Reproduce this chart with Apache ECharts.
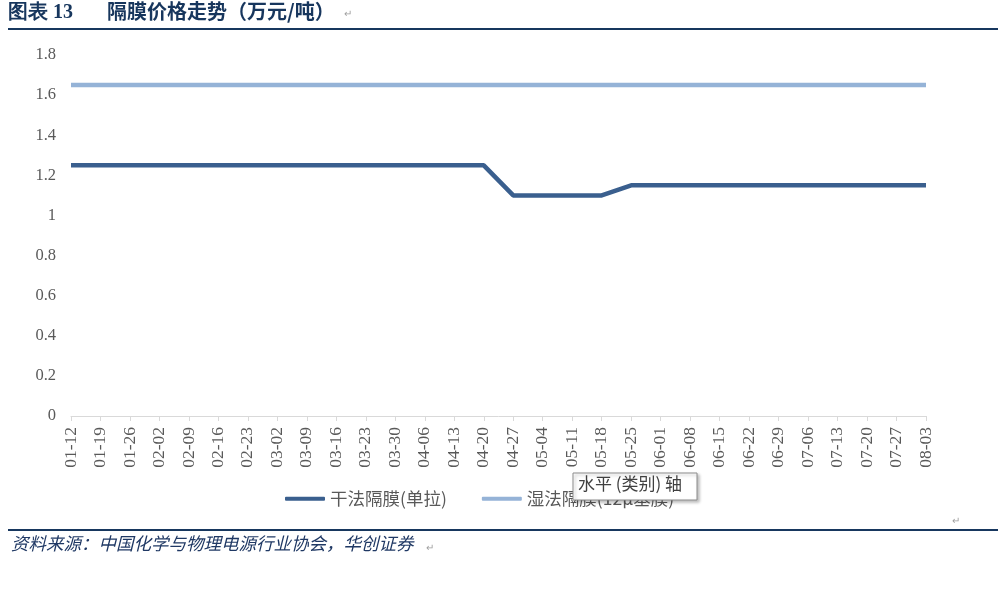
<!DOCTYPE html>
<html>
<head>
<meta charset="utf-8">
<script src="https://cdn.jsdelivr.net/npm/echarts@6/dist/echarts.min.js"></script>
<style>
  html, body { margin: 0; padding: 0; background: #fff; }
  #chart { width: 998px; height: 592px; }
</style>
</head>
<body>
<div id="chart"></div>
<script>
// Weekly separator prices, 10k yuan / tonne
const weeks = [
  '01-12','01-19','01-26','02-02','02-09','02-16','02-23','03-02','03-09','03-16',
  '03-23','03-30','04-06','04-13','04-20','04-27','05-04','05-11','05-18','05-25',
  '06-01','06-08','06-15','06-22','06-29','07-06','07-13','07-20','07-27','08-03'
];
const dryName = '干法隔膜(单拉)';
const wetName = '湿法隔膜(12μ基膜)';
const dryPrice = [
  1.25,1.25,1.25,1.25,1.25,1.25,1.25,1.25,1.25,1.25,
  1.25,1.25,1.25,1.25,1.25,1.10,1.10,1.10,1.10,1.15,
  1.15,1.15,1.15,1.15,1.15,1.15,1.15,1.15,1.15,1.15
];
const wetPrice = [
  1.65,1.65,1.65,1.65,1.65,1.65,1.65,1.65,1.65,1.65,
  1.65,1.65,1.65,1.65,1.65,1.65,1.65,1.65,1.65,1.65,
  1.65,1.65,1.65,1.65,1.65,1.65,1.65,1.65,1.65,1.65
];

const chart = echarts.init(document.getElementById('chart'));
const serif = '"Liberation Serif", "Times New Roman", serif';
const cjk = '"Noto Sans CJK SC", sans-serif';

chart.setOption({
  animation: false,
  backgroundColor: '#fff',
  grid: { left: 71, right: 72, top: 55, bottom: 176 },
  legend: {
    left: 280, top: 485, itemGap: 35, itemWidth: 40, itemHeight: 4,
    icon: 'roundRect',
    textStyle: { fontFamily: cjk, fontSize: 17.5, color: '#595959' },
    data: [dryName, wetName]
  },
  xAxis: {
    type: 'category', data: weeks, boundaryGap: false,
    axisLine: { lineStyle: { color: '#D9D9D9', width: 1 } },
    axisTick: { show: true, length: 5, alignWithLabel: true, lineStyle: { color: '#D9D9D9' } },
    axisLabel: { rotate: 90, interval: 0, margin: 11, fontFamily: serif, fontSize: 17.5, color: '#595959' }
  },
  yAxis: {
    type: 'value', min: 0, max: 1.8, interval: 0.2,
    axisLine: { show: false }, axisTick: { show: false },
    splitLine: { show: false },
    axisLabel: {
      margin: 15, fontFamily: serif, fontSize: 16.5, color: '#595959',
      formatter: v => String(Math.round(v * 10) / 10)
    }
  },
  series: [
    { name: dryName, type: 'line', data: dryPrice, symbol: 'none',
      lineStyle: { color: '#3A5F8E', width: 4.5 }, itemStyle: { color: '#3A5F8E' } },
    { name: wetName, type: 'line', data: wetPrice, symbol: 'none',
      lineStyle: { color: '#95B3D7', width: 4.5 }, itemStyle: { color: '#95B3D7' } }
  ],
  graphic: {
    z: 100,
    elements: [
      { type: 'text', left: 8, top: 3,
        style: { text: '图表 13', font: 'bold 20px ' + serif, fill: '#17365D' } },
      { type: 'text', left: 107, top: 1,
        style: { text: '隔膜价格走势（万元/吨）', font: 'bold 20px ' + cjk, fill: '#17365D' } },
      { type: 'text', left: 344, top: 8,
        style: { text: '↵', font: '10px ' + cjk, fill: '#A0A0A0' } },
      { type: 'rect', shape: { x: 8, y: 28, width: 990, height: 2 }, style: { fill: '#17375E' } },
      { type: 'rect', shape: { x: 8, y: 529, width: 990, height: 2 }, style: { fill: '#17375E' } },
      { type: 'text', left: 952, top: 515,
        style: { text: '↵', font: '10px ' + cjk, fill: '#A0A0A0' } },
      { type: 'text', left: 11, top: 535,
        style: { text: '资料来源：中国化学与物理电源行业协会，华创证券', font: 'italic 17.5px ' + cjk, fill: '#1F3864' } },
      { type: 'text', left: 426, top: 542,
        style: { text: '↵', font: '10px ' + cjk, fill: '#A0A0A0' } },
      // axis-name hover box sitting over the legend
      { type: 'rect', z: 100, shape: { x: 573, y: 473, width: 124, height: 27 },
        style: { fill: '#FFFFFF', stroke: '#8C8C8C', lineWidth: 1,
          shadowBlur: 3, shadowOffsetX: 2, shadowOffsetY: 2, shadowColor: 'rgba(0,0,0,0.25)' } },
      { type: 'text', z: 101, left: 578, top: 475,
        style: { text: '水平 (类别) 轴', font: '17px ' + cjk, fill: '#404040' } }
    ]
  }
});
</script>
</body>
</html>
